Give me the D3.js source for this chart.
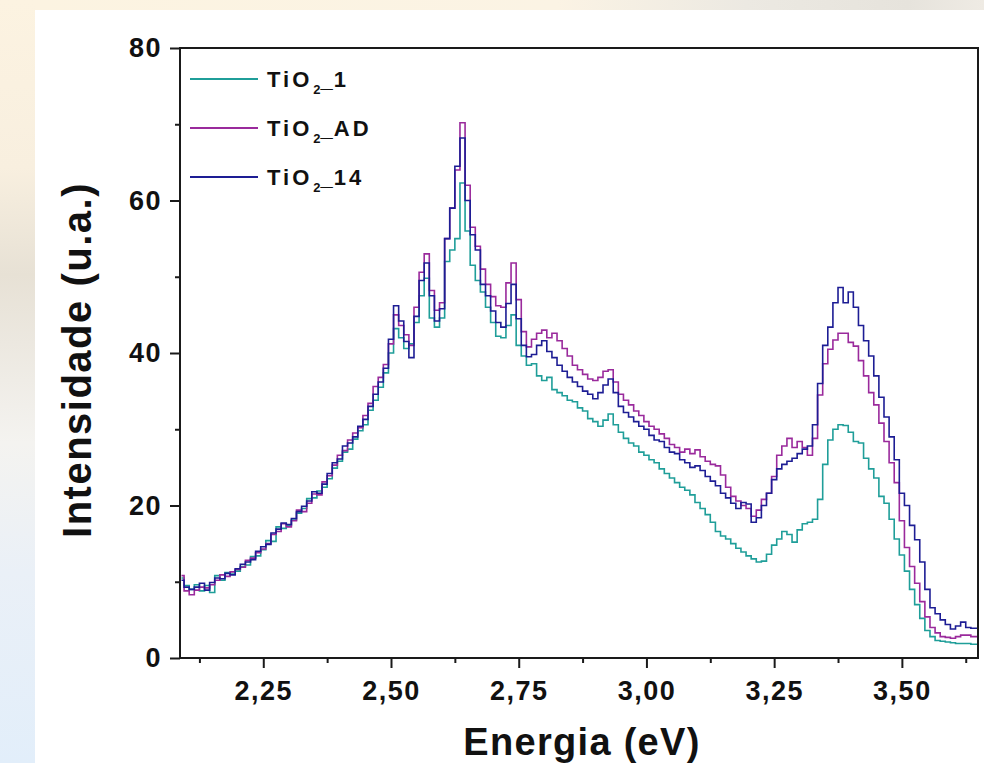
<!DOCTYPE html>
<html><head><meta charset="utf-8">
<script src="https://cdn.jsdelivr.net/npm/d3@7"></script>
<style>body{margin:0;padding:0;overflow:hidden;background:#fff}svg{display:block}</style>
</head><body>
<script>
// ---------- DATA ----------
const energy = d3.range(0, 157).map(i => +(2.09 + i * 0.01).toFixed(2)); // 2.09 .. 3.65 eV grid
const tio2_1 = [
10.5,9.5,9.0,9.6,8.8,9.5,8.6,10.8,10.2,11.2,11.0,11.4,12.0,12.2,13.3,13.4,14.2,15.4,15.3,17.2,
17.0,17.4,18.1,19.0,19.6,20.9,21.0,21.9,22.4,23.5,24.9,25.8,27.0,27.4,28.7,29.8,30.6,32.5,33.8,35.5,
37.4,40.0,43.2,42.0,40.6,41.2,44.0,47.5,49.8,44.6,43.4,44.6,52.0,53.5,55.0,62.3,56.0,51.5,49.5,48.0,
46.0,44.0,42.2,42.0,43.6,45.0,41.0,39.6,38.4,38.6,37.0,36.4,36.8,35.2,34.8,34.4,33.8,33.6,32.8,32.4,
31.4,31.0,30.4,31.2,32.0,30.6,29.6,28.8,28.2,27.8,27.0,26.6,26.0,25.6,24.8,24.2,23.6,23.0,22.4,22.0,
21.4,20.4,19.6,18.8,17.8,16.6,16.0,15.6,15.0,14.4,13.9,13.4,13.0,12.6,12.7,13.6,14.8,15.6,16.6,16.2,
15.2,16.8,17.6,17.8,18.2,20.8,25.4,28.6,30.0,30.6,30.5,29.6,28.4,28.2,26.2,24.8,23.6,21.2,20.3,18.2,
15.6,13.5,11.4,9.0,7.0,5.2,3.6,2.8,2.3,2.2,2.1,2.0,1.9,1.9,1.9,1.8,1.8];
const tio2_AD = [
10.8,8.8,8.3,8.9,9.3,9.2,9.6,10.2,10.9,10.7,11.3,11.6,11.9,12.8,13.1,13.8,14.3,15.0,16.2,16.6,
17.6,17.2,18.0,19.4,19.2,20.3,21.5,21.4,23.1,23.9,25.3,26.6,27.2,28.6,29.5,30.2,31.8,33.4,35.6,36.8,
38.5,41.2,45.0,43.6,42.4,41.0,46.0,50.6,53.0,48.2,45.6,46.6,55.0,59.0,64.0,70.2,62.0,56.5,54.0,51.0,
49.0,47.4,46.2,46.0,49.2,51.8,47.0,42.8,40.8,41.8,42.6,43.0,42.0,42.6,41.6,40.6,39.6,38.4,37.8,37.2,
36.6,36.4,36.8,37.6,37.8,36.2,34.6,33.8,33.2,32.4,31.8,31.0,30.4,30.0,29.4,28.8,28.0,27.6,27.0,27.4,
26.8,27.3,26.4,25.8,25.4,25.2,24.0,22.4,21.2,20.6,20.0,19.6,18.6,19.4,20.8,21.6,23.8,26.6,27.8,28.8,
27.6,28.4,27.6,26.6,28.8,34.5,38.6,40.5,41.7,42.6,42.6,41.4,40.9,39.0,37.0,34.8,33.2,30.8,28.4,25.6,
23.0,18.0,14.5,12.0,9.8,7.4,5.4,4.0,3.3,2.8,2.7,2.6,2.8,3.0,3.0,2.8,2.8];
const tio2_14 = [
10.2,9.3,9.0,9.3,9.8,8.9,9.9,10.5,10.4,11.1,10.9,11.7,12.3,12.6,12.9,14.0,14.6,14.9,16.4,16.9,
17.7,17.5,18.3,19.2,19.9,20.6,21.8,21.6,22.8,24.2,25.6,26.1,27.8,28.2,29.0,30.4,31.3,33.0,34.6,36.2,
38.0,41.8,46.2,44.2,41.5,39.4,44.8,49.5,51.8,47.5,44.2,45.8,55.0,59.0,64.5,68.2,60.0,55.5,53.5,49.0,
47.5,45.5,44.0,43.4,46.5,49.0,44.5,41.0,39.5,39.8,41.0,41.6,40.2,39.4,38.4,37.6,36.8,36.2,35.6,35.0,
34.6,34.0,34.8,35.8,36.6,34.8,33.0,32.2,31.6,31.0,30.4,30.0,29.2,28.6,28.4,27.6,27.0,26.8,26.0,25.6,
25.0,25.2,24.6,23.8,23.2,22.6,21.6,21.0,20.3,19.6,20.4,20.2,17.8,18.4,20.0,21.6,23.4,24.8,25.4,25.8,
26.2,26.8,27.4,27.8,30.6,36.0,41.0,43.4,46.6,48.6,46.6,48.0,46.0,43.6,41.6,39.6,37.0,34.2,31.6,29.0,
26.0,21.6,20.0,17.4,15.5,12.6,9.0,6.6,5.8,5.0,4.4,3.8,4.2,4.7,4.0,3.9,3.9];
const seriesNames = ["TiO\u2082_1", "TiO\u2082_AD", "TiO\u2082_14"];
const seriesColors = ["#1f9e99", "#9a2a9c", "#1d1d94"];
const yMajorTicks = [0, 20, 40, 60, 80];
const yMinorTicks = [10, 30, 50, 70];
const xMajorTicks = [2.25, 2.50, 2.75, 3.00, 3.25, 3.50];
const xMinorTicks = [2.125, 2.375, 2.625, 2.875, 3.125, 3.375, 3.625];
const xTitle = "Energia (eV)";
const yTitle = "Intensidade (u.a.)";

// ---------- LAYOUT ----------
const W = 984, H = 763;
const plot = {left: 180, right: 978, top: 48, bottom: 658};
const FONT = "'Liberation Sans', Arial, Helvetica, sans-serif";

const svg = d3.select("body").append("svg").attr("width", W).attr("height", H);
const defs = svg.append("defs");

// background gradients
const gLeft = defs.append("linearGradient").attr("id", "gl").attr("x1", 0).attr("y1", 0).attr("x2", 0).attr("y2", 1);
[[0, "#fcf3e1"], [0.22, "#f8efdf"], [0.36, "#e7e1d5"], [0.45, "#ece8e0"], [0.58, "#f4f3f0"], [0.75, "#eaf0f7"], [1, "#e2eefa"]]
  .forEach(([o, c]) => gLeft.append("stop").attr("offset", o).attr("stop-color", c));
const gTop = defs.append("linearGradient").attr("id", "gt").attr("x1", 0).attr("y1", 0).attr("x2", 1).attr("y2", 0);
[[0, "#fcf3e1"], [0.55, "#fbf3e4"], [0.75, "#ece9e2"], [0.92, "#e6e3dc"], [1, "#efebe4"]]
  .forEach(([o, c]) => gTop.append("stop").attr("offset", o).attr("stop-color", c));
svg.append("rect").attr("width", W).attr("height", H).attr("fill", "url(#gl)");
svg.append("rect").attr("x", 35).attr("width", W - 35).attr("height", 10).attr("fill", "url(#gt)");
svg.append("rect").attr("x", 35).attr("y", 10).attr("width", W - 35).attr("height", H - 10).attr("fill", "#ffffff");

defs.append("clipPath").attr("id", "clip").append("rect")
  .attr("x", plot.left).attr("y", plot.top).attr("width", plot.right - plot.left).attr("height", plot.bottom - plot.top);

// ---------- SCALES ----------
const x = d3.scaleLinear().domain([2.087, 3.649]).range([plot.left, plot.right]);
const y = d3.scaleLinear().domain([0, 80]).range([plot.bottom, plot.top]);

// ---------- LINES ----------
const line = d3.line().x((d, i) => x(energy[i])).y(d => y(d)).curve(d3.curveStep);
const allSeries = [tio2_1, tio2_AD, tio2_14];
const gLines = svg.append("g").attr("clip-path", "url(#clip)");
allSeries.forEach((s, k) => {
  gLines.append("path").datum(s).attr("d", line)
    .attr("fill", "none").attr("stroke", seriesColors[k]).attr("stroke-width", 1.6)
    .attr("stroke-linejoin", "miter");
});

// ---------- AXES ----------
const fmtX = d => d3.format(".2f")(d).replace(".", ",");
const axisStyle = g => {
  g.selectAll("path.domain").remove();
  g.selectAll("line").attr("stroke", "#1a1a1a").attr("stroke-width", 2);
  g.selectAll("text").attr("font-family", FONT).attr("font-weight", "bold")
    .attr("font-size", 27).attr("fill", "#111").style("letter-spacing", "1.5px");
};
svg.append("g").attr("transform", `translate(${plot.left},0)`)
  .call(d3.axisLeft(y).tickValues(yMajorTicks).tickSize(10).tickPadding(8).tickFormat(d3.format("d")))
  .call(axisStyle);
svg.append("g").attr("transform", `translate(${plot.left},0)`)
  .call(d3.axisLeft(y).tickValues(yMinorTicks).tickSize(5).tickFormat(""))
  .call(axisStyle);
svg.append("g").attr("transform", `translate(0,${plot.bottom})`)
  .call(d3.axisBottom(x).tickValues(xMajorTicks).tickSize(10).tickPadding(13).tickFormat(fmtX))
  .call(axisStyle);
svg.append("g").attr("transform", `translate(0,${plot.bottom})`)
  .call(d3.axisBottom(x).tickValues(xMinorTicks).tickSize(5).tickFormat(""))
  .call(axisStyle);

// frame
svg.append("rect").attr("x", plot.left).attr("y", plot.top)
  .attr("width", plot.right - plot.left).attr("height", plot.bottom - plot.top)
  .attr("fill", "none").attr("stroke", "#1a1a1a").attr("stroke-width", 2);

// ---------- TITLES ----------
svg.append("text").attr("x", (plot.left + plot.right) / 2 + 3).attr("y", 755)
  .attr("text-anchor", "middle").attr("font-family", FONT).attr("font-weight", "bold")
  .attr("font-size", 38).attr("fill", "#111").style("letter-spacing", "1.3px").text(xTitle);
svg.append("text").attr("transform", `translate(91,${(plot.top + plot.bottom) / 2 + 7}) rotate(-90)`)
  .attr("text-anchor", "middle").attr("font-family", FONT).attr("font-weight", "bold")
  .attr("font-size", 40).attr("fill", "#111").style("letter-spacing", "1.5px").text(yTitle);

// ---------- LEGEND ----------
const legend = svg.append("g");
seriesNames.forEach((name, k) => {
  const ly = 79 + k * 49;
  legend.append("line").attr("x1", 190).attr("x2", 258).attr("y1", ly).attr("y2", ly)
    .attr("stroke", seriesColors[k]).attr("stroke-width", 2);
  const parts = name.split("\u2082");
  const t = legend.append("text").attr("x", 267).attr("y", ly + 8)
    .attr("font-family", FONT).attr("font-weight", "bold").attr("font-size", 22)
    .attr("fill", "#111").style("letter-spacing", "3px");
  t.append("tspan").text(parts[0]);
  t.append("tspan").attr("dx", 1).attr("dy", 7).attr("font-size", 13).style("letter-spacing", "0px").text("2");
  t.append("tspan").attr("dx", 0).attr("dy", -7).style("letter-spacing", "1px").text(parts[1].slice(0, 1));
  t.append("tspan").style("letter-spacing", "3px").text(parts[1].slice(1));
});
</script>
</body></html>
